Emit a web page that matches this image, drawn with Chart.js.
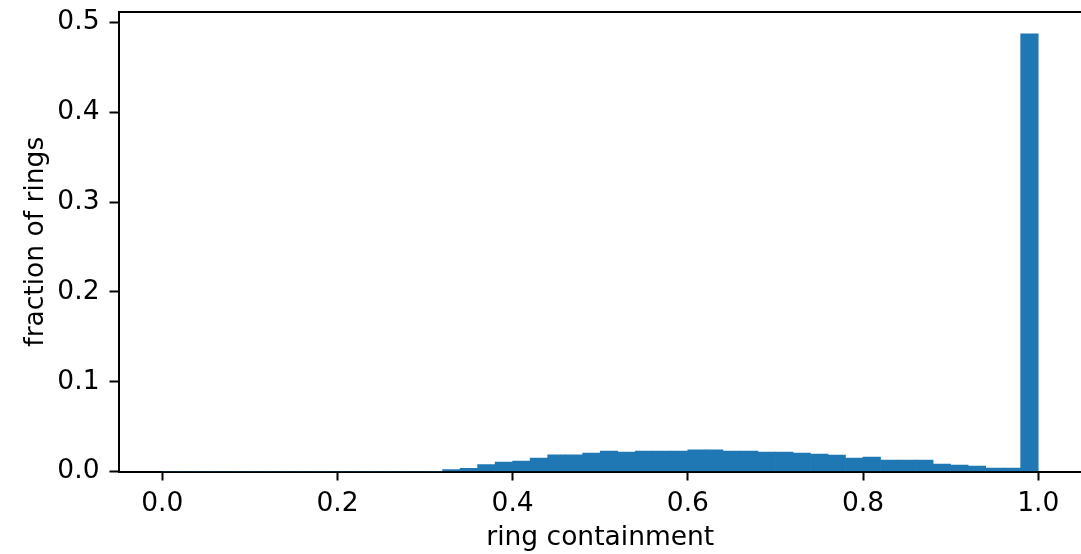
<!DOCTYPE html>
<html>
<head>
<meta charset="utf-8">
<script src="https://cdn.jsdelivr.net/npm/chart.js@4"></script>
<style>
  html, body { margin: 0; padding: 0; background: #fff; overflow: hidden; }
  #wrap { width: 1083px; height: 554px; }
</style>
</head>
<body>
<div id="wrap"><canvas id="hist" width="1083" height="554"></canvas></div>
<script>
// histogram of ring containment, 50 bins of width 0.02
const binCenters = [
    0.01, 0.03, 0.05, 0.07, 0.09, 0.11, 0.13, 0.15, 0.17, 0.19,
    0.21, 0.23, 0.25, 0.27, 0.29, 0.31, 0.33, 0.35, 0.37, 0.39,
    0.41, 0.43, 0.45, 0.47, 0.49, 0.51, 0.53, 0.55, 0.57, 0.59,
    0.61, 0.63, 0.65, 0.67, 0.69, 0.71, 0.73, 0.75, 0.77, 0.79,
    0.81, 0.83, 0.85, 0.87, 0.89, 0.91, 0.93, 0.95, 0.97, 0.99
];
const fractions = [
    0, 0, 0, 0, 0, 0, 0, 0, 0, 0,
    0, 0, 0, 0, 0, 0, 0.002, 0.0035, 0.0076, 0.0106,
    0.0117, 0.015, 0.0187, 0.0187, 0.0206, 0.0228, 0.0217, 0.0228, 0.0228, 0.0228,
    0.024, 0.024, 0.0228, 0.0228, 0.0217, 0.0217, 0.0206, 0.0195, 0.0184, 0.015,
    0.0162, 0.0128, 0.0128, 0.0128, 0.0084, 0.0072, 0.0061, 0.0039, 0.0039, 0.4874
];
const xTicks = [0, 0.2, 0.4, 0.6, 0.8, 1.0];
const yTicks = [0, 0.1, 0.2, 0.3, 0.4, 0.5];

const FONT = { family: "'DejaVu Sans'", size: 26.5 };

// top/right spines (matplotlib box)
const framePlugin = {
    id: "frame",
    afterDraw(chart) {
        const { ctx, chartArea } = chart;
        ctx.save();
        ctx.strokeStyle = "#000";
        ctx.lineWidth = 2;
        ctx.beginPath();
        ctx.moveTo(chartArea.left, chartArea.top);
        ctx.lineTo(chartArea.right, chartArea.top);
        ctx.lineTo(chartArea.right, chartArea.bottom);
        ctx.stroke();
        ctx.restore();
    }
};

const points = binCenters.map((c, i) => ({ x: c, y: fractions[i] }));

new Chart(document.getElementById("hist").getContext("2d"), {
    type: "bar",
    data: {
        datasets: [{
            data: points,
            backgroundColor: "#1f77b4",
            borderWidth: 0,
            barPercentage: 1.0,
            categoryPercentage: 1.0
        }]
    },
    options: {
        responsive: false,
        animation: false,
        devicePixelRatio: 1,
        layout: { padding: { top: 12, right: 1, left: 0, bottom: 0 } },
        plugins: { legend: { display: false }, tooltip: { enabled: false } },
        scales: {
            x: {
                type: "linear",
                min: -0.05,
                max: 1.05,
                offset: false,
                grid: { offset: false, drawOnChartArea: false, drawTicks: true, tickLength: 9, tickWidth: 2, color: "#000" },
                border: { display: true, color: "#000", width: 2 },
                afterBuildTicks: axis => { axis.ticks = xTicks.map(v => ({ value: v })); },
                afterFit: scale => {
                    scale.height = 82.5;
                    scale.paddingLeft = 0;
                    scale.paddingRight = 0;
                },
                ticks: {
                    color: "#000",
                    font: FONT,
                    padding: 8,
                    maxRotation: 0,
                    callback: v => v.toFixed(1)
                },
                title: { display: true, text: "ring containment", color: "#000", font: FONT, padding: { top: 0, bottom: 0 } }
            },
            y: {
                min: 0,
                max: 0.5118,
                grid: { drawOnChartArea: false, drawTicks: true, tickLength: 9, tickWidth: 2, color: "#000" },
                border: { display: true, color: "#000", width: 2 },
                afterBuildTicks: axis => { axis.ticks = yTicks.map(v => ({ value: v })); },
                afterFit: scale => {
                    scale.width = 118.5;
                    scale.paddingTop = 0;
                    scale.paddingBottom = 0;
                },
                ticks: {
                    color: "#000",
                    font: FONT,
                    padding: 10,
                    callback: v => v.toFixed(1)
                },
                title: { display: true, text: "fraction of rings", color: "#000", font: FONT, padding: { top: 20, bottom: 0 } }
            }
        }
    },
    plugins: [framePlugin]
});
</script>
</body>
</html>
